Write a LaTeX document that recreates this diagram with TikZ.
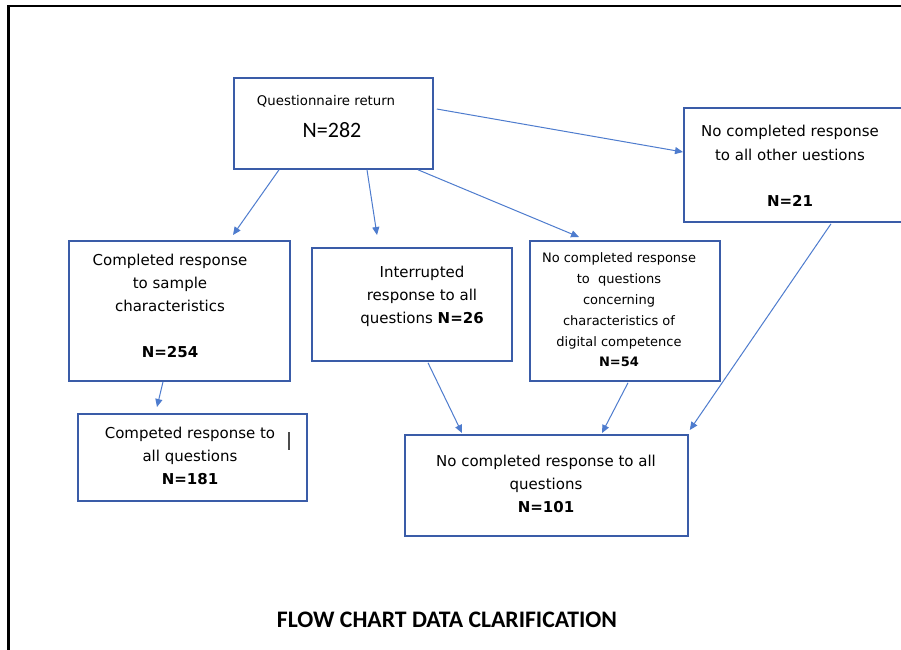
\documentclass[tikz,border=0pt]{standalone}
\usepackage{fontspec}
\usetikzlibrary{arrows.meta,calc}
\newfontfamily\dv{DejaVu Sans}
\newfontfamily\cb{Carlito}
\definecolor{boxblue}{RGB}{58,92,168}
\definecolor{arrblue}{RGB}{78,124,206}
\tikzset{
  box/.style={draw=boxblue, line width=1.8pt, rectangle, anchor=north west, inner sep=0pt},
  txt/.style={align=center, inner sep=0pt, font=\dv\fontsize{15}{23}\selectfont},
  smalltxt/.style={align=center, inner sep=0pt, font=\dv\fontsize{13}{20.8}\selectfont},
  arr/.style={draw=arrblue, line width=1pt, -{Triangle[length=8pt,width=7pt]}},
}
\begin{document}
\begin{tikzpicture}[x=1pt,y=-1pt]
  \fill[white] (0,0) rectangle (901,649);
  \useasboundingbox (0,0) rectangle (901,649);
  % page frame
  \draw[black, line width=2.4pt] (8.5,660) -- (8.5,6) -- (910,6);

  % boxes
  \node[box, minimum width=199pt, minimum height=91pt] (q) at (233,77) {};
  \node[box, minimum width=230pt, minimum height=114pt] (other) at (683,107) {};
  \node[box, minimum width=221pt, minimum height=140pt] (sample) at (68,240) {};
  \node[box, minimum width=200pt, minimum height=113pt] (interr) at (311,247) {};
  \node[box, minimum width=190pt, minimum height=140pt] (noq) at (529,240) {};
  \node[box, minimum width=229pt, minimum height=87pt] (all) at (77,413) {};
  \node[box, minimum width=283pt, minimum height=101pt] (none) at (404,434) {};

  % box texts
  \node[inner sep=0pt, font=\dv\fontsize{13.3}{16}\selectfont] (qa) at (326,101) {Questionnaire return};
  \node[inner sep=0pt, font=\cb\fontsize{22}{26}\selectfont] (qb) at (332,130) {N=282};
  \node[txt, font=\dv\fontsize{15}{24}\selectfont] (othert) at (790,166) {No completed response\\to all other uestions\\[22pt]\textbf{N=21}};
  \node[txt] (samplet) at (170,306) {Completed response\\to sample\\characteristics\\[23pt]\textbf{N=254}};
  \node[txt] (interrt) at (422,296) {Interrupted\\response to all\\questions \textbf{N=26}};
  \node[smalltxt] (noqt) at (619,310) {No completed response\\to\ \ questions\\concerning\\characteristics of\\digital competence\\\textbf{N=54}};
  \node[txt] (allt) at (190,455.5) {Competed response to\\all questions\\\textbf{N=181}};
  \node[txt] (nonet) at (546,484) {No completed response to all\\questions\\\textbf{N=101}};
  \draw[black!70, line width=1.2pt] (289,432) -- (289,450);

  % connectors
  \draw[arr] ($(q.south west)+(46,0)$) -- ($(sample.north west)+(165,-5)$);
  \draw[arr] ($(q.south west)+(134,0)$) -- ($(interr.north west)+(66,-12)$);
  \draw[arr] ($(q.south west)+(185,0)$) -- ($(noq.north west)+(50,-3)$);
  \draw[arr] ($(q.north east)+(3,32)$) -- ($(other.north west)+(0,45)$);
  \draw[arr] ($(sample.south west)+(95,0)$) -- ($(all.north west)+(80,-6)$);
  \draw[arr] ($(interr.south west)+(117,1)$) -- ($(none.north west)+(58,-1)$);
  \draw[arr] ($(noq.south west)+(99,1)$) -- ($(none.north west)+(198,-1)$);
  \draw[arr] ($(other.south west)+(148,1)$) -- ($(none.north east)+(1,-4)$);

  % caption
  \node[inner sep=0pt, font=\cb\bfseries\fontsize{23.7}{28}\selectfont] (title) at (447,620) {FLOW CHART DATA CLARIFICATION};
\end{tikzpicture}
\end{document}
